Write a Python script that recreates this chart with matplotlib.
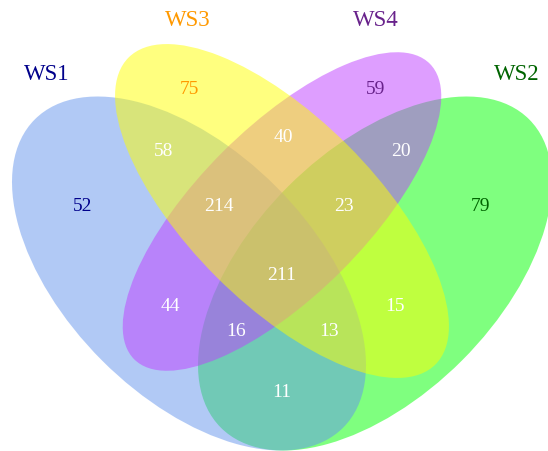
import matplotlib
matplotlib.use("Agg")
import matplotlib.pyplot as plt
from matplotlib.patches import Ellipse

# set names and colours
sets = ["WS1", "WS2", "WS3", "WS4"]
fill_colors = {"WS1": "#6495ED", "WS2": "#00FF00", "WS3": "#FFFF00", "WS4": "#BF3EFF"}
label_colors = {"WS1": "#00008B", "WS2": "#006400", "WS3": "#FF9900", "WS4": "#68228B"}

# region keys (which sets) and their counts
regions = ["WS1", "WS2", "WS3", "WS4",
           "WS1&WS3", "WS3&WS4", "WS2&WS4",
           "WS1&WS3&WS4", "WS2&WS3&WS4",
           "WS1&WS2&WS3&WS4",
           "WS1&WS4", "WS2&WS3",
           "WS1&WS2&WS4", "WS1&WS2&WS3",
           "WS1&WS2"]
counts = [52, 79, 75, 59,
          58, 40, 20,
          214, 23,
          211,
          44, 15,
          16, 13,
          11]

# geometry in canvas pixels (y grows downward): centre, semi-axes, angle
ellipse_geom = {
    "WS1": ((189, 274.5), 218, 123, 45),
    "WS3": ((282, 212), 217, 93, 45),
    "WS4": ((282, 212.5), 209, 84, -45),
    "WS2": ((375, 274.5), 218, 123, -45),
}
draw_order = ["WS2", "WS1", "WS4", "WS3"]

region_pos = {
    "WS1": (83, 207), "WS2": (481, 207),
    "WS3": (189, 89), "WS4": (376, 89),
    "WS1&WS3": (164, 152), "WS3&WS4": (283, 138), "WS2&WS4": (401, 152),
    "WS1&WS3&WS4": (219, 207), "WS2&WS3&WS4": (344, 207),
    "WS1&WS2&WS3&WS4": (282, 276),
    "WS1&WS4": (170, 307), "WS2&WS3": (395, 307),
    "WS1&WS2&WS4": (236, 332), "WS1&WS2&WS3": (329, 332),
    "WS1&WS2": (282, 393),
}
label_pos = {"WS1": (47, 75), "WS3": (188, 21),
             "WS4": (376, 21), "WS2": (517, 75)}

fig = plt.figure(figsize=(5.48, 4.52), dpi=100)
ax = fig.add_axes([0, 0, 1, 1])
ax.set_xlim(0, 548)
ax.set_ylim(452, 0)
ax.axis("off")

for s in draw_order:
    (cx, cy), a, b, ang = ellipse_geom[s]
    ax.add_patch(Ellipse((cx, cy), 2 * a, 2 * b, angle=ang,
                         facecolor=fill_colors[s], alpha=0.5, edgecolor="none"))

font = "Liberation Serif"
for key, n in zip(regions, counts):
    x, y = region_pos[key]
    col = label_colors[key] if key in sets else "white"
    ax.text(x, y, str(n), ha="center", va="center", fontsize=14,
            family=font, color=col)

for s in sets:
    x, y = label_pos[s]
    ax.text(x, y, s, ha="center", va="center", fontsize=16.5,
            family=font, color=label_colors[s])

fig.savefig("out.png", dpi=100)
